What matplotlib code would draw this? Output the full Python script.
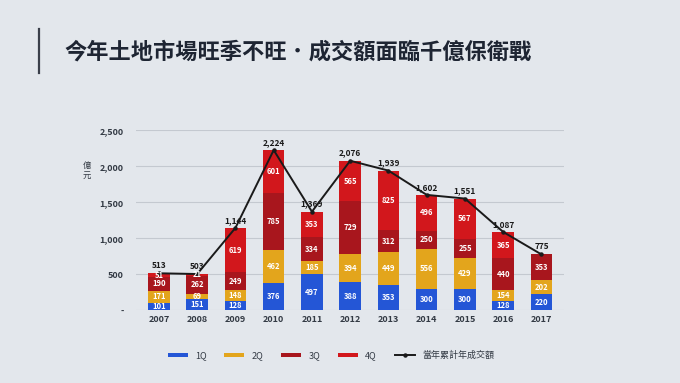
import numpy as np
import matplotlib.pyplot as plt

plt.rcParams['font.family'] = ['Noto Sans CJK TC', 'DejaVu Sans']

# data (億元)
years = ["2007", "2008", "2009", "2010", "2011", "2012", "2013", "2014", "2015", "2016", "2017"]
q1 = [101, 151, 128, 376, 497, 388, 353, 300, 300, 128, 220]
q2 = [171, 69, 148, 462, 185, 394, 449, 556, 429, 154, 202]
q3 = [190, 262, 249, 785, 334, 729, 312, 250, 255, 440, 353]
q4 = [51, 21, 619, 601, 353, 565, 825, 496, 567, 365, 0]
totals = [513, 503, 1144, 2224, 1369, 2076, 1939, 1602, 1551, 1087, 775]

q_names = ["1Q", "2Q", "3Q", "4Q"]
q_colors = ["#2456d6", "#e3a51c", "#a8161d", "#d2171c"]
bg = "#e3e7ec"

fig = plt.figure(figsize=(6.8, 3.83), dpi=100)
fig.patch.set_facecolor(bg)

# title and left accent line
fig.text(0.095, 0.865, "今年土地市場旺季不旺．成交額面臨千億保衛戰",
         fontsize=16, fontweight='bold', color="#1e2533", va='center')
fig.add_artist(plt.Line2D([0.058, 0.058], [0.81, 0.925], color="#3a3f4a", lw=1.6))

ax = fig.add_axes([0.2, 0.19, 0.63, 0.47])
ax.set_facecolor(bg)

x = np.arange(len(years))
series = [q1, q2, q3, q4]
bottom = np.zeros(len(years))
handles = []
for vals, name, col in zip(series, q_names, q_colors):
    vals = np.array(vals, dtype=float)
    h = ax.bar(x, vals, 0.56, bottom=bottom, color=col, label=name, zorder=2)
    handles.append(h)
    for xi, v, b in zip(x, vals, bottom):
        if v > 0:
            ax.text(xi, b + v / 2, str(int(v)), ha='center', va='center',
                    fontsize=5.5, color='white', fontweight='bold', zorder=4)
    bottom += vals

line, = ax.plot(x, totals, color="#1a1a1a", lw=1.4, marker='o', ms=2.2,
                label="當年累計年成交額", zorder=3)
handles.append(line)
for xi, t in zip(x, totals):
    ax.text(xi, t + 45, f"{t:,}", ha='center', va='bottom', fontsize=6,
            fontweight='bold', color="#1a1a1a", zorder=4)

ax.set_ylim(0, 2500)
ax.set_xlim(-0.6, len(years) - 0.4)
ax.set_yticks(range(0, 2501, 500))
ax.set_yticklabels(["-", "500", "1,000", "1,500", "2,000", "2,500"])
ax.set_xticks(x)
ax.set_xticklabels(years)
ax.tick_params(axis='both', length=0, labelsize=6.5, colors="#333a44")
for lab in ax.get_xticklabels() + ax.get_yticklabels():
    lab.set_fontweight('bold')
ax.tick_params(axis='y', pad=9)
ax.grid(axis='y', color="#c4c9d0", lw=0.8, zorder=0)
for s in ax.spines.values():
    s.set_visible(False)

fig.text(0.128, 0.555, "億\n元", fontsize=6, color="#333a44", ha='center',
         va='center', linespacing=1.1)

ax.legend(handles=handles, loc='upper center', bbox_to_anchor=(0.455, -0.18), ncol=5,
          frameon=False, fontsize=6.5, handlelength=2.2, handleheight=0.4,
          columnspacing=2.0, labelcolor="#333a44")

fig.savefig("out.png", dpi=100, facecolor=bg)
